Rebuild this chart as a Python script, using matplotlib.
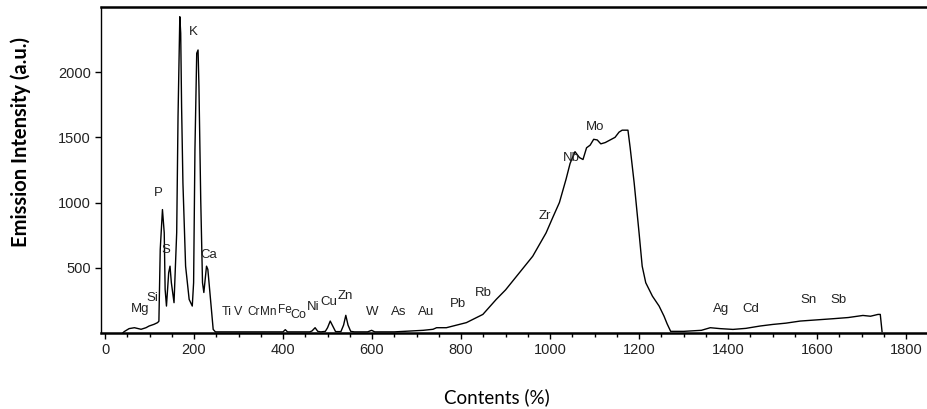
import matplotlib
matplotlib.use("Agg")
import matplotlib.pyplot as plt
from matplotlib.ticker import MultipleLocator

# ---- data ----
contents = [40, 43, 54, 66, 81, 92, 99, 110, 118, 121, 124, 129, 133, 135, 138, 143, 146,
            149, 152, 155, 161, 164, 168, 170, 172, 175, 181, 189, 196, 199, 202, 206, 209,
            211, 215, 219, 222, 228, 231, 237, 243, 248, 260, 300, 380, 400, 405, 410, 420,
            460, 465, 472, 478, 485, 495, 500, 506, 512, 518, 530, 536, 541, 546, 552, 560,
            590, 599, 606, 650, 715, 737, 745, 767, 790, 812, 849, 879, 900, 931, 961, 991,
            1006, 1021, 1036, 1045, 1056, 1066, 1074, 1082, 1090, 1098, 1106, 1114, 1124,
            1135, 1146, 1155, 1162, 1170, 1175, 1180, 1189, 1200, 1207, 1215, 1230, 1245,
            1256, 1263, 1271, 1300, 1340, 1360, 1382, 1411, 1440, 1472, 1500, 1530, 1562,
            1600, 1636, 1670, 1703, 1720, 1737, 1742, 1746]
intensity = [0, 10, 33, 40, 28, 40, 53, 66, 79, 90, 640, 946, 767, 334, 206, 462, 512,
             385, 310, 232, 770, 1660, 2425, 2300, 1736, 1150, 512, 257, 206, 385, 1405, 2145, 2170,
             1890, 1022, 385, 310, 512, 487, 257, 27, 8, 8, 8, 8, 8, 25, 8, 8,
             8, 15, 40, 12, 8, 12, 40, 91, 50, 10, 10, 60, 135, 60, 12, 8,
             8, 20, 8, 8, 20, 28, 40, 40, 60, 79, 142, 257, 330, 461, 588, 767,
             885, 1000, 1180, 1300, 1390, 1345, 1330, 1420, 1440, 1485, 1480, 1450, 1460,
             1480, 1500, 1540, 1555, 1555, 1555, 1420, 1150, 767, 512, 385, 282, 206,
             129, 70, 12, 12, 20, 40, 33, 27, 35, 53, 65, 75, 91,
             100, 109, 118, 134, 128, 142, 142, 10]

element_labels = ["Mg", "Si", "P", "S", "K", "Ca", "Ti", "V", "Cr", "Mn", "Fe", "Co",
                  "Ni", "Cu", "Zn", "W", "As", "Au", "Pb", "Rb", "Zr", "Nb", "Mo",
                  "Ag", "Cd", "Sn", "Sb"]
label_x = [79, 106, 119, 137, 198, 234, 274, 300, 333, 366, 403, 435,
           467, 503, 541, 601, 661, 722, 793, 850, 988, 1047, 1100,
           1385, 1450, 1580, 1647]
label_y = [185, 265, 1075, 638, 2307, 600, 160, 160, 160, 160, 175, 135,
           200, 235, 285, 160, 160, 160, 220, 310, 900, 1340, 1580,
           180, 185, 250, 250]
label_size = [9.5, 9.5, 9.5, 9.5, 9.5, 9.5, 9, 9, 8.5, 8.5, 8.5, 9,
              9.5, 9.5, 9.5, 9.5, 9.5, 9.5, 9.5, 9.5, 9.5, 9.5, 9.5,
              9.5, 9.5, 9.5, 9.5]

x_ticks = [0, 200, 400, 600, 800, 1000, 1200, 1400, 1600, 1800]
y_ticks = [500, 1000, 1500, 2000]

# ---- figure ----
fig = plt.figure(figsize=(9.27, 4.09), dpi=100)
ax = fig.add_axes([0.109, 0.186, 0.891, 0.797])

ax.plot(contents, intensity, color="black", lw=1.0)

for t, lx, ly, fs in zip(element_labels, label_x, label_y, label_size):
    ax.text(lx, ly, t, ha="center", va="center", fontsize=fs,
            family="Liberation Sans", color="#222222")

ax.set_xlim(-9, 1847)
ax.set_ylim(0, 2500)
ax.set_xticks(x_ticks)
ax.set_yticks(y_ticks)
ax.xaxis.set_minor_locator(MultipleLocator(50))
ax.tick_params(axis="both", which="major", direction="out", length=4, width=1,
               labelsize=10.5)
ax.tick_params(axis="x", which="minor", direction="out", length=3, width=1)
for lab in ax.get_xticklabels() + ax.get_yticklabels():
    lab.set_family("Liberation Sans")
    lab.set_color("#222222")

ax.spines["right"].set_visible(False)
ax.spines["top"].set_linewidth(1.8)
ax.spines["bottom"].set_linewidth(1.8)
ax.spines["left"].set_linewidth(1.0)

fig.text(0.022, 1 - 142 / 409, "Emission Intensity (a.u.)", rotation=90, ha="center",
         va="center", fontsize=14.5, fontweight="bold", family="Lato")
fig.text(497 / 927, 1 - 397 / 409, "Contents (%)", ha="center", va="center", fontsize=13.5,
         family="Lato")

fig.savefig("out.png", dpi=100)
